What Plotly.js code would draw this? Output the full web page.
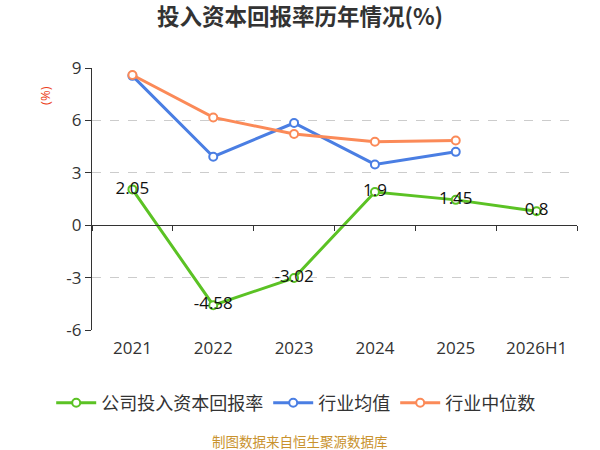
<!DOCTYPE html>
<html>
<head>
<meta charset="utf-8">
<script src="https://cdn.plot.ly/plotly-3.0.1.min.js"></script>
<style>
  html, body { margin: 0; padding: 0; background: #fff; }
  #chart { width: 600px; height: 450px; }
</style>
</head>
<body>
<div id="chart"></div>
<script>
const years = ["2021", "2022", "2023", "2024", "2025", "2026H1"];
const companyRoic = [2.05, -4.58, -3.02, 1.9, 1.45, 0.8];
const industryAvg = [8.55, 3.92, 5.85, 3.48, 4.2, null];
const industryMedian = [8.6, 6.17, 5.22, 4.78, 4.85, null];
const yTicks = [-6, -3, 0, 3, 6, 9];

const FONT = "'Open Sans', 'Noto Sans CJK SC', sans-serif";
const CJK = "'Noto Sans CJK SC', 'Open Sans', sans-serif";

function lineTrace(name, y, color, rank, withText) {
  let t = {
    x: years,
    y: y,
    name: name,
    legendrank: rank,
    type: "scatter",
    mode: withText ? "lines+markers+text" : "lines+markers",
    line: { color: color, width: 3 },
    marker: { symbol: "circle", size: 8, color: "#fff", line: { color: color, width: 2 } },
    connectgaps: false,
    hoverinfo: "x+y",
  };
  if (withText) {
    t.text = y.map((v) => String(v));
    t.textposition = "middle center";
    t.textfont = { family: FONT, size: 17, color: "#111" };
  }
  return t;
}

// company series last so its labels sit above the other lines
let traces = [
  lineTrace("行业均值", industryAvg, "#4a7ee3", 2, false),
  lineTrace("行业中位数", industryMedian, "#fb8a58", 3, false),
  lineTrace("公司投入资本回报率", companyRoic, "#5bc224", 1, true),
];

const yMin = -6, yMax = 9;

let layout = {
  width: 600,
  height: 450,
  margin: { l: 92, r: 23, t: 68, b: 120 },
  paper_bgcolor: "#fff",
  plot_bgcolor: "#fff",
  font: { family: FONT, color: "#333" },
  showlegend: true,
  title: {
    text: "<b>投入资本回报率历年情况(%)</b>",
    x: 0.5,
    xanchor: "center",
    y: 0.962,
    yanchor: "middle",
    font: { family: CJK, size: 22.5, color: "#333" },
  },
  legend: {
    orientation: "h",
    x: 0.42,
    xanchor: "center",
    y: -0.279,
    yanchor: "middle",
    font: { family: CJK, size: 18, color: "#333" },
    itemwidth: 40,
  },
  xaxis: {
    type: "category",
    categoryorder: "array",
    categoryarray: years,
    range: [-0.5, 5.5],
    showgrid: false,
    showline: false,
    zeroline: false,
    ticks: "",
    tickfont: { family: FONT, size: 17, color: "#333" },
    ticklabelstandoff: 6,
    fixedrange: true,
  },
  xaxis2: {
    type: "category",
    categoryorder: "array",
    categoryarray: years,
    range: [-0.5, 5.5],
    overlaying: "x",
    anchor: "free",
    position: (0 - yMin) / (yMax - yMin),
    side: "bottom",
    showline: true,
    linecolor: "#333",
    linewidth: 1.2,
    ticks: "outside",
    tickson: "boundaries",
    ticklen: 5,
    tickcolor: "#333",
    showticklabels: false,
    showgrid: false,
    zeroline: false,
  },
  yaxis: {
    range: [yMin, yMax],
    tickmode: "array",
    tickvals: yTicks,
    ticktext: yTicks.map(String),
    showline: true,
    linecolor: "#333",
    linewidth: 1.2,
    ticks: "outside",
    ticklen: 6,
    tickcolor: "#333",
    tickfont: { family: FONT, size: 17, color: "#333" },
    showgrid: true,
    gridcolor: "#cccccc",
    griddash: "dash",
    gridwidth: 1,
    zeroline: false,
    fixedrange: true,
  },
  annotations: [
    {
      text: "(%)",
      xref: "paper",
      yref: "paper",
      x: -0.097,
      xanchor: "center",
      y: 0.897,
      yanchor: "middle",
      showarrow: false,
      textangle: -90,
      font: { family: FONT, size: 13, color: "#ec3f1c" },
    },
    {
      text: "制图数据来自恒生聚源数据库",
      xref: "paper",
      yref: "paper",
      x: 0.429,
      xanchor: "center",
      y: -0.424,
      yanchor: "middle",
      showarrow: false,
      font: { family: CJK, size: 13.5, color: "#c9922e" },
    },
  ],
};

// an empty trace on the second axis so that the zero axis line gets drawn
let axisTrace = {
  x: years,
  y: years.map(() => null),
  xaxis: "x2",
  type: "scatter",
  mode: "lines",
  showlegend: false,
  hoverinfo: "skip",
};

Plotly.newPlot("chart", [axisTrace, ...traces], layout, { displayModeBar: false, staticPlot: true });
</script>
</body>
</html>
